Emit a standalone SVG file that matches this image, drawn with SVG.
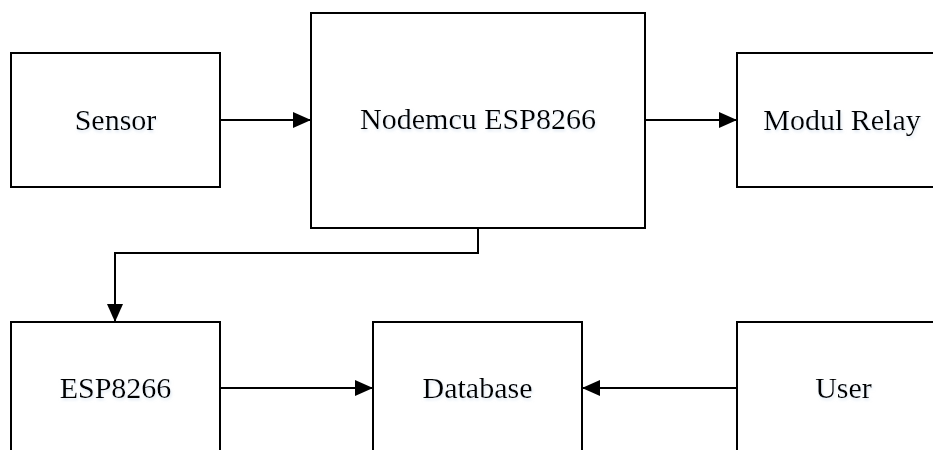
<svg xmlns="http://www.w3.org/2000/svg" width="933" height="450" viewBox="0 0 933 450">
  <defs>
    <style>
      .box { fill: #ffffff; stroke: #000000; stroke-width: 2; }
      .lbl { font-family: "Liberation Serif", "Times New Roman", serif; font-size: 30px; fill: #000000; text-anchor: middle; }
      .conn { fill: none; stroke: #000000; stroke-width: 2; }
    </style>
    <filter id="sh" x="-10%" y="-10%" width="120%" height="130%">
      <feGaussianBlur in="SourceAlpha" stdDeviation="1.5" result="b"/>
      <feOffset in="b" dx="1" dy="2" result="o"/>
      <feFlood flood-color="#c9d8ea" flood-opacity="0.6"/>
      <feComposite in2="o" operator="in" result="s"/>
      <feMerge><feMergeNode in="s"/><feMergeNode in="SourceGraphic"/></feMerge>
    </filter>
    <marker id="arr" markerWidth="18" markerHeight="16" refX="18" refY="8" orient="auto" markerUnits="userSpaceOnUse">
      <path d="M0,0 L18,8 L0,16 Z" fill="#000000"/>
    </marker>
  </defs>
  <rect width="933" height="450" fill="#ffffff"/>

  <g id="sensor">
    <rect class="box" x="11" y="53" width="209" height="134"/>
    <text class="lbl" x="115.5" y="130" filter="url(#sh)">Sensor</text>
  </g>
  <g id="nodemcu">
    <rect class="box" x="311" y="13" width="334" height="215"/>
    <text class="lbl" x="478" y="129" filter="url(#sh)">Nodemcu ESP8266</text>
  </g>
  <g id="relay">
    <rect class="box" x="737" y="53" width="210" height="134"/>
    <text class="lbl" x="842" y="130" filter="url(#sh)">Modul Relay</text>
  </g>
  <g id="esp8266">
    <rect class="box" x="11" y="322" width="209" height="140"/>
    <text class="lbl" x="115.5" y="398" filter="url(#sh)">ESP8266</text>
  </g>
  <g id="database">
    <rect class="box" x="373" y="322" width="209" height="140"/>
    <text class="lbl" x="477.5" y="398" filter="url(#sh)">Database</text>
  </g>
  <g id="user">
    <rect class="box" x="737" y="322" width="213" height="140"/>
    <text class="lbl" x="843.5" y="398" filter="url(#sh)">User</text>
  </g>

  <g id="connectors">
    <path class="conn" d="M220,120 L311,120" marker-end="url(#arr)"/>
    <path class="conn" d="M645,120 L737,120" marker-end="url(#arr)"/>
    <path class="conn" d="M478,228 L478,253 L115,253 L115,322" marker-end="url(#arr)"/>
    <path class="conn" d="M220,388 L373,388" marker-end="url(#arr)"/>
    <path class="conn" d="M737,388 L582,388" marker-end="url(#arr)"/>
  </g>
</svg>
